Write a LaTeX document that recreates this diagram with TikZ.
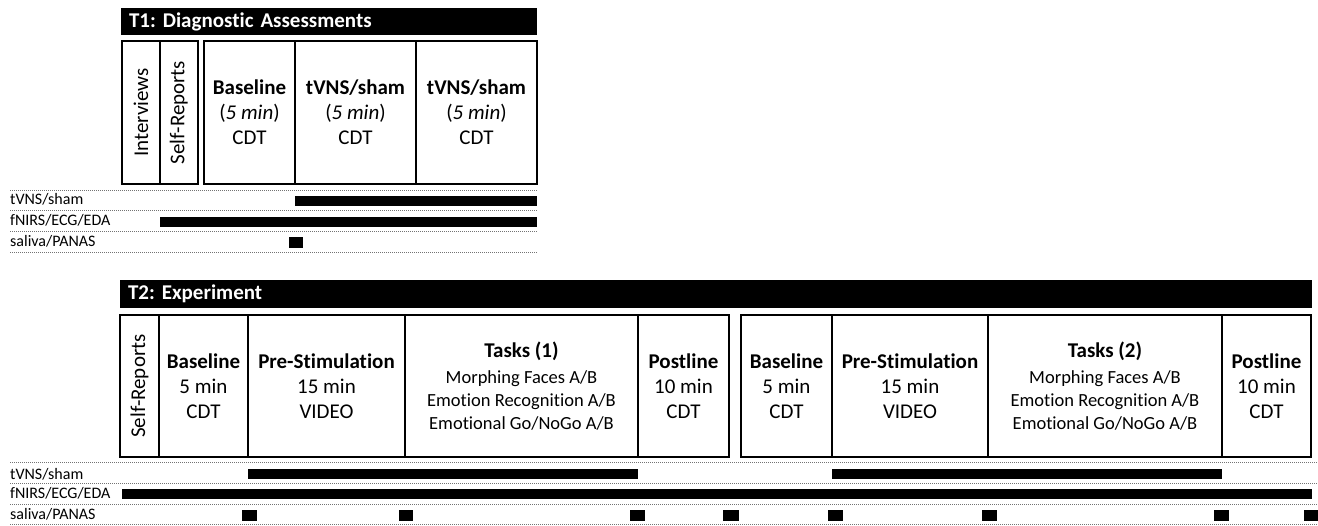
\documentclass[tikz,border=0pt]{standalone}
\usepackage{fontspec}
\setmainfont{Carlito}[Ligatures={NoCommon,NoRequired,NoContextual}]
\frenchspacing
\begin{document}
\begin{tikzpicture}[x=1pt,y=-1pt,
  box/.style={draw=black,line width=2pt,fill=white,inner sep=0pt,align=center,
    font=\fontsize{21}{25}\selectfont},
  tbox/.style={box,minimum height=143pt},
  ebox/.style={box,minimum height=142pt},
  header/.style={fill=black,text=white,inner ysep=0pt,inner xsep=8pt,align=left,
    font=\fontsize{21}{25}\selectfont\bfseries},
  vtext/.style={rotate=90,inner sep=0pt,font=\fontsize{21}{25}\selectfont},
  tasks/.style={box,minimum height=142pt,font=\fontsize{18.5}{23}\selectfont},
  rowlabel/.style={anchor=base west,inner sep=0pt,font=\fontsize{16}{18}\selectfont},
  dotline/.style={draw=black!55,line width=1pt,dash pattern=on 1pt off 1pt},
  bar/.style={fill=black}
]
\useasboundingbox (0,0) rectangle (1318,526);

% ---------------- T1 ----------------
\node[header,minimum width=416pt,minimum height=27pt,text width=400pt] (h1) at (329,21.5) {T1: Diagnostic Assessments};

\node[tbox,minimum width=38pt] (int) at (141,112.5) {};
\node[vtext] (intT) at (int.center) {Interviews};
\node[tbox,minimum width=37.5pt] (sr1) at (178.75,112.5) {};
\node[vtext] (sr1T) at (sr1.center) {Self-Reports};

\node[tbox,minimum width=91pt] (bl1) at (249.5,112.5) {\textbf{Baseline}\\(\textit{5 min})\\CDT};
\node[tbox,minimum width=121pt] (ts1) at (355.5,112.5) {\textbf{tVNS/sham}\\(\textit{5 min})\\CDT};
\node[tbox,minimum width=121pt] (ts2) at (476.5,112.5) {\textbf{tVNS/sham}\\(\textit{5 min})\\CDT};

\foreach \yy in {191,211,232,253} \draw[dotline] (10,\yy) -- (537,\yy);
\node[rowlabel] (l1a) at (10,205) {tVNS/sham};
\node[rowlabel] (l1b) at (10,226) {fNIRS/ECG/EDA};
\node[rowlabel] (l1c) at (10,247) {saliva/PANAS};
\fill[bar] (295,196) rectangle (537,206);
\fill[bar] (160,217) rectangle (537,227);
\fill[bar] (289,237) rectangle (303,248);

% ---------------- T2 ----------------
\node[header,minimum width=1192pt,minimum height=28pt,text width=1176pt] (h2) at (716,294) {T2: Experiment};

\node[ebox,minimum width=39pt] (sr2) at (139.5,386) {};
\node[vtext] (sr2T) at (sr2.center) {Self-Reports};
\node[ebox,minimum width=89pt] (bl2) at (203.5,386) {\textbf{Baseline}\\5 min\\CDT};
\node[ebox,minimum width=157pt] (ps1) at (326.5,386) {\textbf{Pre-Stimulation}\\15 min\\VIDEO};
\node[tasks,minimum width=233pt] (tk1) at (521.5,386) {{\fontsize{21}{25}\selectfont\textbf{Tasks (1)}}\\[3pt]Morphing Faces A/B\\Emotion Recognition A/B\\Emotional Go/NoGo A/B};
\node[ebox,minimum width=91pt] (pl1) at (683.5,386) {\textbf{Postline}\\10 min\\CDT};

\node[ebox,minimum width=91pt] (bl3) at (786.5,386) {\textbf{Baseline}\\5 min\\CDT};
\node[ebox,minimum width=156pt] (ps2) at (910,386) {\textbf{Pre-Stimulation}\\15 min\\VIDEO};
\node[tasks,minimum width=234pt] (tk2) at (1105,386) {{\fontsize{21}{25}\selectfont\textbf{Tasks (2)}}\\[3pt]Morphing Faces A/B\\Emotion Recognition A/B\\Emotional Go/NoGo A/B};
\node[ebox,minimum width=89pt] (pl2) at (1266.5,386) {\textbf{Postline}\\10 min\\CDT};

\foreach \yy in {463,484,504.5,524} \draw[dotline] (10,\yy) -- (1318,\yy);
\node[rowlabel] (l2a) at (10,479) {tVNS/sham};
\node[rowlabel] (l2b) at (10,499) {fNIRS/ECG/EDA};
\node[rowlabel] (l2c) at (10,519) {saliva/PANAS};
\fill[bar] (248,469) rectangle (638,479);
\fill[bar] (832,469) rectangle (1222,479);
\fill[bar] (122,489) rectangle (1312,499);
\foreach \xa/\xb in {242/257,399/413,630/645,723/739,828/843,982/997,1214/1229,1304/1318}
  \fill[bar] (\xa,510) rectangle (\xb,521);
\end{tikzpicture}
\end{document}
